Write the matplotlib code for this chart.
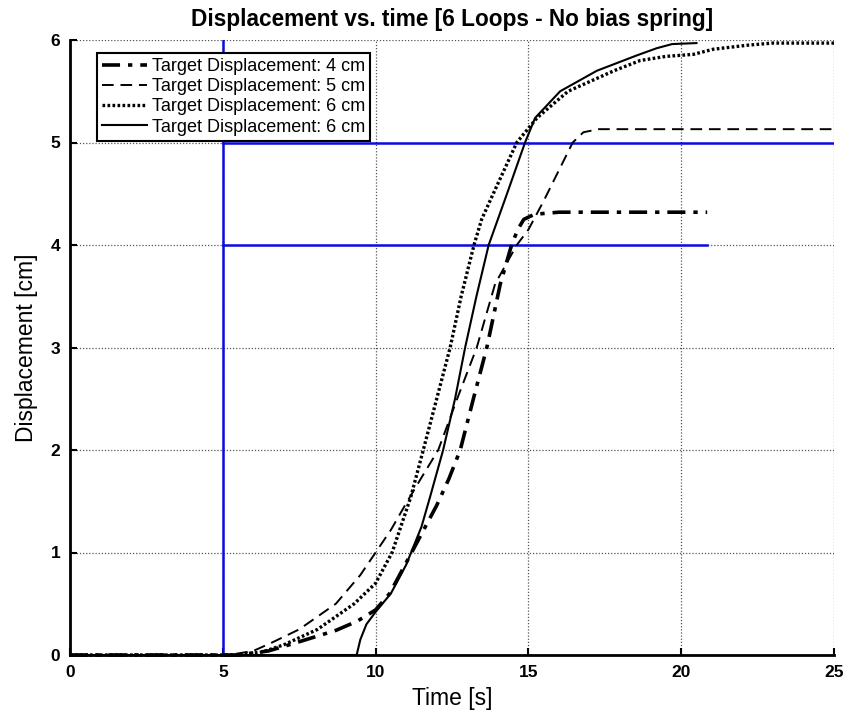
import matplotlib
matplotlib.use("Agg")
import matplotlib.pyplot as plt

plt.rcParams['font.family'] = ['Liberation Sans', 'DejaVu Sans']

# ---- data ----
t_4cm = [0, 5.5, 6.5, 7.4, 8.7, 9.4, 10.0, 10.46, 11.18, 12.0, 12.4, 12.77, 13.2, 13.64, 14.08, 14.45, 14.65, 14.85, 15.2, 16.0, 20.85]
d_4cm = [0, 0, 0.04, 0.12, 0.24, 0.33, 0.44, 0.6, 1.0, 1.46, 1.72, 2.0, 2.5, 3.0, 3.62, 4.0, 4.15, 4.25, 4.3, 4.32, 4.32]

t_5cm = [0, 5.2, 6.0, 6.6, 7.5, 8.7, 9.5, 10.0, 10.5, 11.0, 11.5, 12.05, 12.67, 13.31, 13.91, 14.62, 15.0, 15.5, 16.45, 16.8, 17.3, 25]
d_5cm = [0, 0, 0.04, 0.12, 0.25, 0.5, 0.78, 1.0, 1.22, 1.48, 1.73, 2.0, 2.5, 3.0, 3.62, 4.0, 4.15, 4.43, 5.0, 5.1, 5.13, 5.13]

t_6cm_a = [0, 5.5, 6.3, 7.0, 8.1, 9.3, 10.0, 10.54, 11.15, 11.56, 12.0, 12.44, 12.8, 13.22, 13.47, 13.85, 14.62, 15.28, 16.3, 17.8, 18.66, 19.5, 20.4, 21.05, 22.2, 23.0, 25]
d_6cm_a = [0, 0, 0.03, 0.1, 0.25, 0.5, 0.7, 1.0, 1.54, 2.0, 2.5, 3.0, 3.5, 4.0, 4.25, 4.5, 5.0, 5.24, 5.5, 5.7, 5.8, 5.84, 5.86, 5.91, 5.95, 5.97, 5.97]

t_6cm_b = [0, 9.38, 9.5, 9.7, 10.0, 10.5, 11.0, 11.5, 11.78, 12.21, 12.6, 12.93, 13.3, 13.7, 14.3, 14.89, 15.22, 16.04, 17.24, 18.55, 19.2, 19.7, 20.5]
d_6cm_b = [0, 0, 0.15, 0.3, 0.42, 0.6, 0.88, 1.25, 1.54, 2.0, 2.5, 3.0, 3.5, 4.0, 4.5, 5.0, 5.24, 5.5, 5.7, 5.85, 5.92, 5.96, 5.97]

labels = ["Target Displacement: 4 cm", "Target Displacement: 5 cm",
          "Target Displacement: 6 cm", "Target Displacement: 6 cm"]

# blue reference lines
vline_x = [5, 5]
vline_y = [0, 6]
hline5_x = [5, 25]
hline5_y = [5, 5]
hline4_x = [5, 20.85]
hline4_y = [4, 4]

xticks = [0, 5, 10, 15, 20, 25]
yticks = [0, 1, 2, 3, 4, 5, 6]

# ---- figure ----
fig = plt.figure(figsize=(8.55, 7.18), dpi=100)
ax = fig.add_axes([70/855, 1-655/718, 764/855, 615/718])

blue = '#0a0ae6'
ax.plot(vline_x, vline_y, color=blue, lw=1.8, zorder=2)
ax.plot(hline5_x, hline5_y, color=blue, lw=1.8, zorder=2)
ax.plot(hline4_x, hline4_y, color=blue, lw=1.8, zorder=2)

l1, = ax.plot(t_4cm, d_4cm, color='black', lw=2.6, dashes=(5, 2.2, 1.2, 2.2), clip_on=False, zorder=3, label=labels[0])
l2, = ax.plot(t_5cm, d_5cm, color='black', lw=1.4, dashes=(6, 3.5), clip_on=False, zorder=3, label=labels[1])
l3, = ax.plot(t_6cm_a, d_6cm_a, color='black', lw=2.4, dashes=(0.8, 0.7), clip_on=False, zorder=3, label=labels[2])
l4, = ax.plot(t_6cm_b, d_6cm_b, color='black', lw=1.5, clip_on=False, zorder=3, label=labels[3])

ax.set_xlim(0, 25)
ax.set_ylim(0, 6)
ax.set_xticks(xticks)
ax.set_yticks(yticks)
ax.tick_params(direction='in', length=5, width=1.5, labelsize=12.5, pad=7)
for lab in ax.get_xticklabels() + ax.get_yticklabels():
    lab.set_fontweight('bold')

ax.spines['top'].set_visible(False)
ax.spines['right'].set_visible(False)
ax.spines['left'].set_linewidth(2)
ax.spines['bottom'].set_linewidth(2)

ax.grid(True, linestyle=(0, (1, 1.5)), color='#555555', lw=0.9)
ax.set_axisbelow(True)

ax.set_xlabel('Time [s]', fontsize=16.5, labelpad=5)
ax.set_ylabel('Displacement [cm]', fontsize=16.5, labelpad=9)
ax.set_title('Displacement vs. time [6 Loops - No bias spring]', fontsize=16.3, fontweight='bold', pad=10)

leg = ax.legend(handles=[l1, l2, l3, l4], loc='upper left', bbox_to_anchor=(0.035, 0.979),
                borderaxespad=0, fontsize=13, frameon=True, fancybox=False,
                handlelength=2.5, handletextpad=0.25, labelspacing=0.17,
                borderpad=0.3, framealpha=1)
leg.get_frame().set_edgecolor('black')
leg.get_frame().set_linewidth(1.5)

fig.savefig('out.png', dpi=100)
